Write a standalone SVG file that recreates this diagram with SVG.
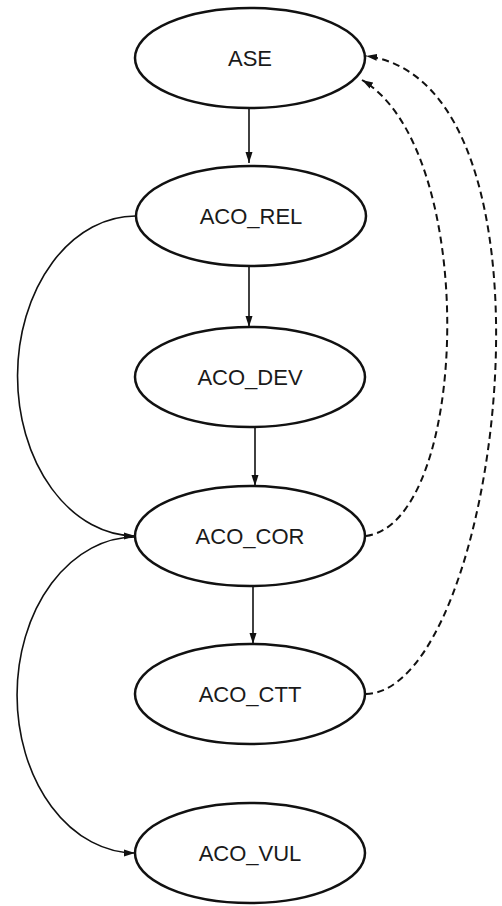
<svg xmlns="http://www.w3.org/2000/svg" width="502" height="906" viewBox="0 0 502 906">
<style>
.node ellipse{fill:#fff;stroke:#111;stroke-width:2.5}
.node text{font-family:"Liberation Sans",Arial,sans-serif;font-size:22px;fill:#1a1a1a;text-anchor:middle}
.edge{fill:none;stroke:#111;stroke-width:1.6}
.dash{stroke-dasharray:7 4.5;stroke-width:2}
</style>
<defs>
<marker id="ah" markerUnits="userSpaceOnUse" markerWidth="12" markerHeight="8" refX="11" refY="4" orient="auto">
<path d="M0,0.5 L11,4 L0,7.5 z" fill="#111"/>
</marker>
</defs>
<rect width="502" height="906" fill="#fff"/>
<g id="connectors">
<path class="edge" d="M249,108 L249,163" marker-end="url(#ah)"/>
<path class="edge" d="M249,266 L249,327" marker-end="url(#ah)"/>
<path class="edge" d="M255,427 L255,486" marker-end="url(#ah)"/>
<path class="edge" d="M253,586 L253,644" marker-end="url(#ah)"/>
<path class="edge" d="M136,216 A118,160 0 0 0 135,536" marker-end="url(#ah)"/>
<path class="edge" d="M135,537 A118,158 0 0 0 135,853" marker-end="url(#ah)"/>
<path class="edge dash" d="M366,536 C470,522 480,150 362,80" marker-end="url(#ah)"/>
<path class="edge dash" d="M366,694 C500,690 575,82 366,56" marker-end="url(#ah)"/>
</g>
<g id="ASE" class="node"><ellipse cx="250" cy="58" rx="115" ry="50"/><text x="250" y="66">ASE</text></g>
<g id="ACO_REL" class="node"><ellipse cx="251" cy="216" rx="115" ry="50"/><text x="251" y="224">ACO_REL</text></g>
<g id="ACO_DEV" class="node"><ellipse cx="250" cy="377" rx="115" ry="50"/><text x="250" y="385">ACO_DEV</text></g>
<g id="ACO_COR" class="node"><ellipse cx="250" cy="536" rx="115" ry="50"/><text x="250" y="544">ACO_COR</text></g>
<g id="ACO_CTT" class="node"><ellipse cx="250" cy="694" rx="115" ry="50"/><text x="250" y="702">ACO_CTT</text></g>
<g id="ACO_VUL" class="node"><ellipse cx="250" cy="853" rx="115" ry="50"/><text x="250" y="861">ACO_VUL</text></g>
</svg>
